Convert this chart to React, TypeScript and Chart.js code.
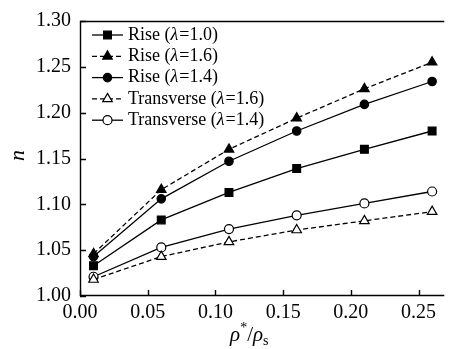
import React, { useEffect, useRef } from 'react';
import { Chart, registerables } from 'chart.js';

Chart.register(...registerables);

const xValues = [0.01, 0.06, 0.11, 0.16, 0.21, 0.26];
const riseL10 = [1.033, 1.083, 1.113, 1.139, 1.160, 1.180];
const riseL16 = [1.046, 1.116, 1.160, 1.194, 1.226, 1.255];
const riseL14 = [1.043, 1.106, 1.147, 1.180, 1.209, 1.234];
const transL16 = [1.018, 1.043, 1.059, 1.072, 1.082, 1.092];
const transL14 = [1.021, 1.053, 1.073, 1.088, 1.101, 1.114];
const seriesLabels = ['Rise (λ=1.0)', 'Rise (λ=1.6)', 'Rise (λ=1.4)', 'Transverse (λ=1.6)', 'Transverse (λ=1.4)'];
const xTickValues = [0, 0.05, 0.1, 0.15, 0.2, 0.25];
const yTickValues = [1.0, 1.05, 1.1, 1.15, 1.2, 1.25, 1.3];
const yTitle = 'n';
const xTitleParts = ['ρ', '*', '/', 'ρ', 's'];

const SERIF = "'Liberation Serif', 'DejaVu Serif', serif";

function drawMarker(ctx: CanvasRenderingContext2D, style: string, x: number, y: number, r: number, fill: string) {
  ctx.beginPath();
  if (style === 'rect') {
    const s = r * Math.SQRT1_2;
    ctx.rect(x - s, y - s, 2 * s, 2 * s);
  } else if (style === 'circle') {
    ctx.arc(x, y, r, 0, Math.PI * 2);
  } else {
    let a = 0;
    ctx.moveTo(x + Math.sin(a) * r, y - Math.cos(a) * r);
    a += (2 * Math.PI) / 3;
    ctx.lineTo(x + Math.sin(a) * r, y - Math.cos(a) * r);
    a += (2 * Math.PI) / 3;
    ctx.lineTo(x + Math.sin(a) * r, y - Math.cos(a) * r);
  }
  ctx.closePath();
  ctx.fillStyle = fill;
  ctx.fill();
  ctx.stroke();
}

const decorPlugin = {
  id: 'decor',
  afterDraw(chart: any) {
    const { ctx, chartArea: ca, scales } = chart;
    ctx.save();
    ctx.strokeStyle = '#000';
    ctx.lineWidth = 1.4;
    ctx.setLineDash([]);
    ctx.beginPath();
    ctx.moveTo(ca.right, ca.top + 0.5);
    ctx.lineTo(ca.left + 0.5, ca.top + 0.5);
    ctx.lineTo(ca.left + 0.5, ca.bottom - 0.5);
    ctx.lineTo(ca.right, ca.bottom - 0.5);
    ctx.stroke();
    ctx.beginPath();
    xTickValues.forEach((v) => {
      const px = Math.round(scales.x.getPixelForValue(v)) + 0.5;
      ctx.moveTo(px, ca.bottom);
      ctx.lineTo(px, ca.bottom - 6);
    });
    yTickValues.forEach((v) => {
      const py = Math.round(scales.y.getPixelForValue(v)) + 0.5;
      ctx.moveTo(ca.left, py);
      ctx.lineTo(ca.left + 6, py);
    });
    ctx.stroke();

    const lx0 = ca.left + 12;
    const lx1 = ca.left + 43;
    const tx = ca.left + 48;
    chart.data.datasets.forEach((ds: any, i: number) => {
      const y = ca.top + 14 + i * 21.3;
      ctx.lineWidth = 1.3;
      ctx.setLineDash(ds.borderDash || []);
      ctx.beginPath();
      ctx.moveTo(lx0, y);
      ctx.lineTo(lx1, y);
      ctx.stroke();
      ctx.setLineDash([]);
      ctx.lineWidth = 1.2;
      drawMarker(ctx, ds.pointStyle, (lx0 + lx1) / 2, y, ds.pointRadius, ds.pointBackgroundColor);
      ctx.fillStyle = '#000';
      ctx.textBaseline = 'middle';
      ctx.textAlign = 'left';
      const parts = (ds.label as string).split('λ');
      let x = tx;
      parts.forEach((p, k) => {
        ctx.font = `18px ${SERIF}`;
        ctx.fillText(p, x, y);
        x += ctx.measureText(p).width;
        if (k < parts.length - 1) {
          ctx.font = `italic 18px ${SERIF}`;
          ctx.fillText('λ', x, y);
          x += ctx.measureText('λ').width + 1;
        }
      });
    });

    ctx.save();
    ctx.translate(18, (ca.top + ca.bottom) / 2 - 3);
    ctx.rotate(-Math.PI / 2);
    ctx.font = `italic 22px ${SERIF}`;
    ctx.textAlign = 'center';
    ctx.textBaseline = 'middle';
    ctx.fillStyle = '#000';
    ctx.fillText(yTitle, 0, 0);
    ctx.restore();

    const base = 341;
    const big = `italic 21px ${SERIF}`;
    const small = `14px ${SERIF}`;
    const norm = `21px ${SERIF}`;
    const segs: [string, string, number][] = [
      [xTitleParts[0], big, 0],
      [xTitleParts[1], small, -9],
      [xTitleParts[2], norm, 0],
      [xTitleParts[3], big, 0],
      [xTitleParts[4], small, 4],
    ];
    let total = 0;
    segs.forEach(([t, f]) => {
      ctx.font = f;
      total += ctx.measureText(t).width;
    });
    const cx = (scales.x.getPixelForValue(0) + scales.x.getPixelForValue(0.25)) / 2;
    let x = cx - total / 2;
    ctx.textAlign = 'left';
    ctx.textBaseline = 'alphabetic';
    ctx.fillStyle = '#000';
    segs.forEach(([t, f, dy]) => {
      ctx.font = f;
      ctx.fillText(t, x, base + dy);
      x += ctx.measureText(t).width;
    });
    ctx.restore();
  },
};

export default function App() {
  const ref = useRef<HTMLCanvasElement | null>(null);
  useEffect(() => {
    if (!ref.current) return;
    let chart: Chart | null = null;
    let cancelled = false;
    const mk = (label: string, data: number[], style: string, r: number, fill: string, dash: number[]) => ({
      label,
      data: xValues.map((x, i) => ({ x, y: data[i] })),
      borderColor: '#000',
      borderWidth: 1.3,
      borderDash: dash,
      pointStyle: style,
      pointRadius: r,
      pointBackgroundColor: fill,
      pointBorderColor: '#000',
      pointBorderWidth: 1.2,
      tension: 0,
      fill: false,
    });
    const build = () => {
      if (cancelled || !ref.current) return;
      if (chart) chart.destroy();
      chart = new Chart(ref.current, {
        type: 'line',
        data: {
          datasets: [
            mk(seriesLabels[0], riseL10, 'rect', 5.5, '#000', []),
            mk(seriesLabels[1], riseL16, 'triangle', 5.5, '#000', [5, 3]),
            mk(seriesLabels[2], riseL14, 'circle', 4.2, '#000', []),
            mk(seriesLabels[3], transL16, 'triangle', 5.5, '#fff', [5, 3]),
            mk(seriesLabels[4], transL14, 'circle', 4.5, '#fff', []),
          ] as any,
        },
        options: {
          responsive: false,
          animation: false,
          devicePixelRatio: 1,
          layout: { padding: { top: 14, right: 0, left: 0, bottom: 0 } },
          plugins: { legend: { display: false }, tooltip: { enabled: false } },
          scales: {
            x: {
              type: 'linear',
              min: 0,
              max: 0.269,
              grid: { display: false, drawTicks: false },
              border: { display: false },
              ticks: {
                includeBounds: false,
                stepSize: 0.05,
                padding: 5,
                color: '#000',
                font: { family: SERIF, size: 20 },
                callback: (v: any) => Number(v).toFixed(2),
              },
              afterFit: (s: any) => {
                s.height = 53;
              },
            },
            y: {
              type: 'linear',
              min: 1.0,
              max: 1.3,
              grid: { display: false, drawTicks: false },
              border: { display: false },
              ticks: {
                stepSize: 0.05,
                padding: 9,
                color: '#000',
                font: { family: SERIF, size: 20 },
                callback: (v: any) => Number(v).toFixed(2),
              },
              afterFit: (s: any) => {
                s.width = 80;
              },
            },
          },
        } as any,
        plugins: [decorPlugin],
      });
    };
    build();
    const fonts = (document as any).fonts;
    if (fonts && fonts.load) {
      Promise.all([
        fonts.load("20px 'Liberation Serif'"),
        fonts.load("italic 20px 'Liberation Serif'"),
      ])
        .catch(() => null)
        .then(() => build());
    }
    return () => {
      cancelled = true;
      if (chart) chart.destroy();
    };
  }, []);
  return (
    <div style={{ position: 'fixed', left: 0, top: 0, width: 451, height: 349, background: '#fff' }}>
      <canvas ref={ref} width={451} height={349} style={{ display: 'block' }} />
    </div>
  );
}
